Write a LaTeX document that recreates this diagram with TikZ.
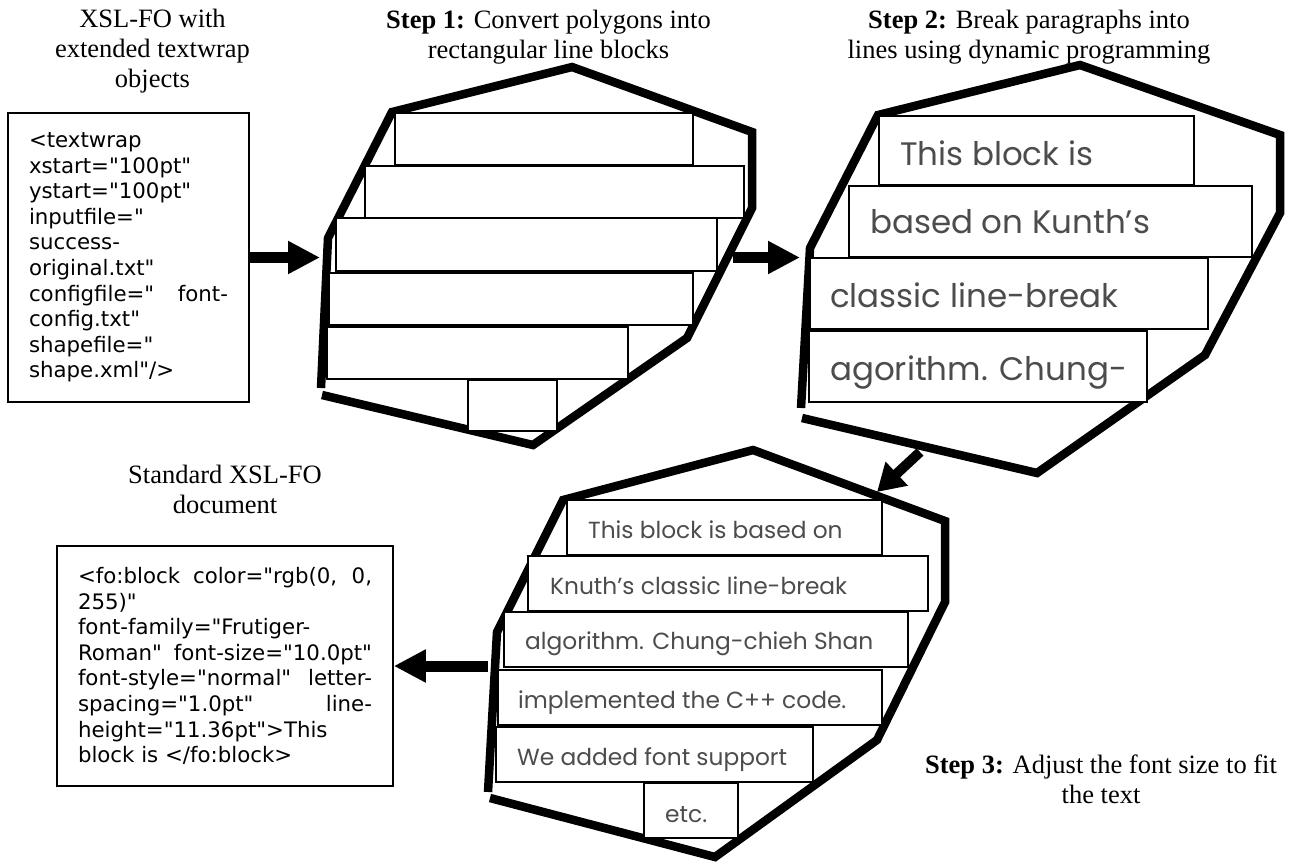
\documentclass[tikz,border=0pt]{standalone}
\usepackage{fontspec}
\setmainfont{Liberation Serif}
\newfontfamily\codefont{DejaVu Sans}
\newfontfamily\blockfont{Poppins}
\usetikzlibrary{arrows.meta}
\definecolor{blockgray}{gray}{0.3}
\newcommand\codesetup{\codefont\fontsize{21.3}{25.6}\selectfont\tolerance=10000\hbadness=10000\relax}
\begin{document}
\begin{tikzpicture}[x=1pt,y=-1pt,
  title/.style={font=\fontsize{26.5}{30}\selectfont, align=center, inner sep=0pt, anchor=base},
  codebox/.style={draw, line width=1.6pt, font=\codesetup, align=justify, text width=199pt,
    inner xsep=21pt, inner ysep=0pt, minimum width=241pt},
  poly/.style={line width=8.5pt, line join=miter, line cap=butt},
  blk/.style={draw, line width=1.6pt, fill=white},
  big/.style={font=\blockfont\fontsize{32.5}{32.5}\selectfont, text=blockgray, inner sep=0pt, anchor=base west},
  small/.style={font=\blockfont\fontsize{23.3}{23.3}\selectfont, text=blockgray, inner sep=0pt, anchor=base west},
  fat/.style={line width=11pt, -{Triangle[length=32pt,width=31pt]}},
]
\useasboundingbox (0,0) rectangle (1289,863);

% titles (anchor = baseline of last line)
\node[title] (t0) at (152.5,87) {XSL-FO with\\extended textwrap\\objects};
\node[title] (t1) at (548.5,58) {\textbf{Step 1:} Convert polygons into\\rectangular line blocks};
\node[title] (t2) at (1029,58) {\textbf{Step 2:} Break paragraphs into\\lines using dynamic programming};
\node[title] (t3) at (225,513) {Standard XSL-FO\\document};
\node[title] (t4) at (1101,803) {\textbf{Step 3:} Adjust the font size to fit\\the text};

% code boxes
\node[codebox, minimum height=289pt] (tbox) at (128.5,257.5) {%
<textwrap\newline
xstart="100pt"\newline
ystart="100pt"\newline
inputfile="\newline
success-\newline
original.txt"\newline
configfile=" font-\linebreak
config.txt"\newline
shapefile="\newline
shape.xml"/>};

\node[codebox, text width=294pt, minimum width=336pt, minimum height=240pt] (bbox) at (225,666) {%
<fo:block color="rgb(0, 0,\linebreak
255)"\newline
font-family="Frutiger-\newline
Roman" font-size="10.0pt"\linebreak
font-style="normal" letter-\linebreak
spacing="1.0pt" line-\linebreak
height="11.36pt">This\newline
block is </fo:block>};

% Step 1
\draw[poly] (322,395) -- (533,445) -- (687,338) -- (752,208) -- (752,132) -- (572,67) -- (392,112) -- (328,238) -- (321,388);
\draw[blk] (395,113) rectangle (693,165);
\draw[blk] (365,166) rectangle (744,218);
\draw[blk] (336,218) rectangle (717,271);
\draw[blk] (329,273) rectangle (693,325);
\draw[blk] (327,327) rectangle (628,379);
\draw[blk] (468,380) rectangle (557,431);

% Step 2
\draw[poly] (802,418) -- (1037,473) -- (1205,355) -- (1280,213) -- (1280,135) -- (1080,65) -- (878,115) -- (810,248) -- (801,408);
\draw[blk] (879,116) rectangle (1194,185);
\draw[blk] (849,186) rectangle (1252,257);
\draw[blk] (810,258) rectangle (1208,329);
\draw[blk] (809,331) rectangle (1147,402);
\node[big] (s2a) at (900,165) {This block is};
\node[big] (s2b) at (870,233) {based on Kunth’s};
\node[big] (s2c) at (830,307) {classic line-break};
\node[big] (s2d) at (830,380) {agorithm. Chung-};

% Step 3
\draw[poly] (490,798) -- (715,857) -- (877,740) -- (945,602) -- (945,521) -- (753,450) -- (563,500) -- (497,632) -- (488,792);
\draw[blk] (567,500) rectangle (882,555);
\draw[blk] (528,556) rectangle (928,611);
\draw[blk] (504,612) rectangle (908,667);
\draw[blk] (498,670) rectangle (882,725);
\draw[blk] (496,727) rectangle (813,782);
\draw[blk] (644,783) rectangle (738,838);
\node[small] (s3a) at (588,538) {This block is based on};
\node[small] (s3b) at (550,594) {Knuth’s classic line-break};
\node[small] (s3c) at (525,649) {algorithm. Chung-chieh Shan};
\node[small] (s3d) at (518,708) {implemented the C++ code.};
\node[small] (s3e) at (517,765) {We added font support};
\node[small] (s3f) at (665,822) {etc.};

% connectors
\coordinate (s1in) at (320,257.5);
\coordinate (s1out) at (733,257.5);
\coordinate (s2in) at (800,257.5);
\coordinate (s2out) at (920,452);
\coordinate (s3in) at (877,492);
\coordinate (s3out) at (488,666);
\draw[fat] (tbox.east) -- (s1in);
\draw[fat] (s1out) -- (s2in);
\draw[line width=10pt, -{Triangle[length=27pt,width=31pt]}] (s2out) -- (s3in);
\draw[fat] (s3out) -- (bbox.east);
\end{tikzpicture}
\end{document}
